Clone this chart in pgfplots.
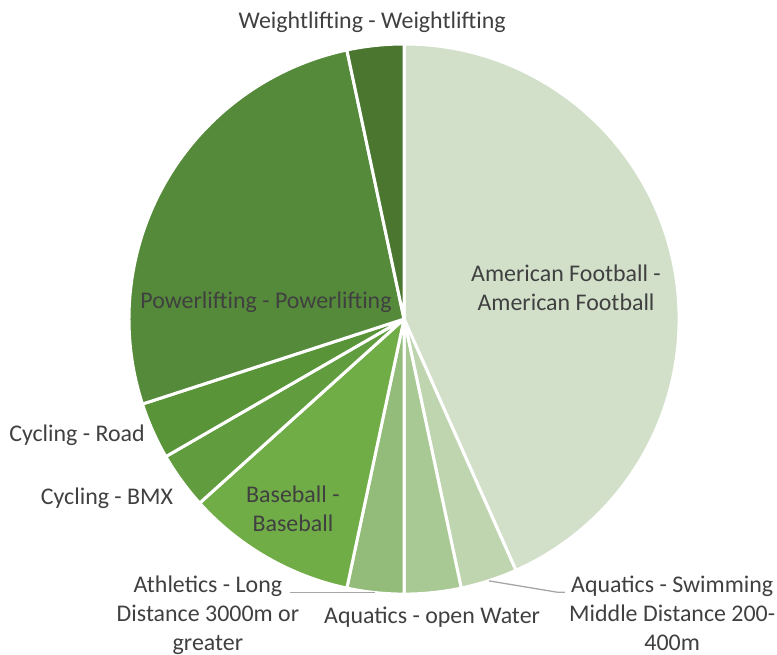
\documentclass[border=0pt]{standalone}
\usepackage{pgfplots}
\pgfplotsset{compat=1.18}
\usepackage{fontspec}
\setmainfont{Carlito}
\definecolor{cAF}{HTML}{D2E0CA}
\definecolor{cSW}{HTML}{BFD5AF}
\definecolor{cOW}{HTML}{A9C994}
\definecolor{cAT}{HTML}{93BB79}
\definecolor{cBB}{HTML}{70AD47}
\definecolor{cBMX}{HTML}{619D3F}
\definecolor{cRD}{HTML}{5A9439}
\definecolor{cPL}{HTML}{558A3A}
\definecolor{cWL}{HTML}{4A7630}
\definecolor{txt}{HTML}{404040}
\definecolor{lead}{HTML}{A6A6A6}
\begin{document}
\begin{tikzpicture}
\begin{axis}[
  x=275bp, y=275bp,
  xmin=-1.469, xmax=1.356, ymin=-1.218, ymax=1.160,
  hide axis, clip=false,
]
% values (counts), clockwise from 12 o'clock; total = 30
\foreach \v/\c [remember=\e as \s (initially 90)] in
  {13/cAF, 1/cSW, 1/cOW, 1/cAT, 3/cBB, 1/cBMX, 1/cRD, 8/cPL, 1/cWL} {
  \pgfmathsetmacro\e{\s - \v*360/30}
  \edef\temp{\noexpand\fill[\c, draw=white, line width=3bp, line join=round]
    (axis cs:0,0) -- ++(\s:275bp) arc[start angle=\s, end angle=\e, radius=275bp] -- cycle;}
  \temp
}
\path (axis cs:-1.469,-1.218) rectangle (axis cs:1.356,1.160);
\tikzset{lbl/.style={text=txt, font=\fontsize{24}{29}\selectfont, align=center, inner sep=0pt}}
\draw[lead, line width=1.3bp] (axis cs:-0.105,-0.993) -- (axis cs:-0.415,-0.993);
\draw[lead, line width=1.3bp] (axis cs:0.309,-0.952) -- (axis cs:0.556,-0.993) -- (axis cs:0.585,-0.993);
\node[lbl] at (axis cs:-0.116,1.078) {Weightlifting - Weightlifting};
\node[lbl] at (axis cs:0.589,0.113) {American Football -\\American Football};
\node[lbl] at (axis cs:-0.502,0.062) {Powerlifting - Powerlifting};
\node[lbl] at (axis cs:-1.189,-0.422) {Cycling - Road};
\node[lbl] at (axis cs:-1.080,-0.651) {Cycling - BMX};
\node[lbl] at (axis cs:-0.404,-0.691) {Baseball -\\Baseball};
\node[lbl] at (axis cs:-0.713,-1.077) {Athletics - Long\\Distance 3000m or\\greater};
\node[lbl] at (axis cs:0.102,-1.084) {Aquatics - open Water};
\node[lbl] at (axis cs:0.975,-1.070) {Aquatics - Swimming\\Middle Distance 200-\\400m};
\end{axis}
\end{tikzpicture}
\end{document}
